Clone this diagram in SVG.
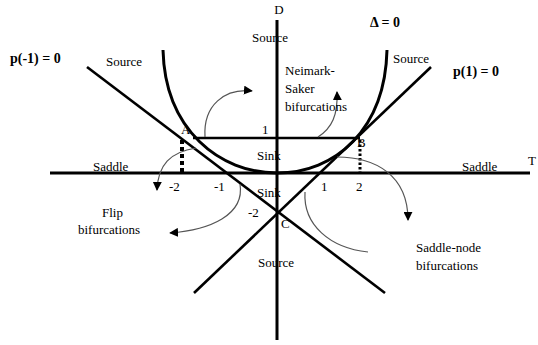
<svg xmlns="http://www.w3.org/2000/svg" width="538" height="345" viewBox="0 0 538 345">
<defs>
<marker id="ah" viewBox="0 0 10 10" refX="9" refY="5" markerWidth="9" markerHeight="9" markerUnits="userSpaceOnUse" orient="auto">
<path d="M0,0 L10,5 L0,10 z" fill="#000"/>
</marker>
<style>
.t{font-family:"Liberation Serif","Times New Roman",serif;font-size:13px;fill:#000}
.b{font-family:"Liberation Serif","Times New Roman",serif;font-size:14px;font-weight:bold;fill:#000}
.ax{stroke:#000;stroke-width:3;fill:none}
.ln{stroke:#000;stroke-width:2.6;fill:none}
.cv{stroke:#000;stroke-width:3;fill:none}
.ar{stroke:#555;stroke-width:1.2;fill:none}
</style>
</defs>
<rect width="538" height="345" fill="#fff"/>
<g id="axes">
<line class="ax" x1="277" y1="20" x2="277" y2="340"/>
<line class="ax" x1="50" y1="173" x2="530" y2="173"/>
</g>
<g id="lines">
<line class="ln" x1="87" y1="67" x2="385" y2="293"/>
<line class="ln" x1="431" y1="67" x2="194" y2="293"/>
<line class="ln" x1="193" y1="138" x2="360" y2="138"/>
<path class="cv" d="M163,50 C165,130 220,173 277,173 C335,173 385,130 387,50"/>
<line x1="182" y1="140" x2="182" y2="173" stroke="#000" stroke-width="4" stroke-dasharray="4,3"/>
<line x1="360" y1="140" x2="360" y2="173" stroke="#000" stroke-width="3" stroke-dasharray="2.5,2"/>
</g>
<g id="connectors">
<path class="ar" d="M205,137 C203,105 225,88 252,91" marker-end="url(#ah)"/>
<path class="ar" d="M318,137 C332,128 338,115 337,92" marker-end="url(#ah)"/>
<path class="ar" d="M196,148 C170,152 158,165 157,190" marker-end="url(#ah)"/>
<path class="ar" d="M240,184 C245,215 210,230 170,233" marker-end="url(#ah)"/>
<path class="ar" d="M337,157 C375,157 408,175 408,220" marker-end="url(#ah)"/>
<path class="ar" d="M305,192 C303,225 330,248 368,252"/>
</g>
<g id="labels">
<text class="t" x="279" y="14" text-anchor="middle">D</text>
<text class="b" x="385" y="27" text-anchor="middle">Δ = 0</text>
<text class="b" x="10" y="63">p(-1) = 0</text>
<text class="b" x="453" y="76">p(1) = 0</text>
<text class="t" x="106" y="66">Source</text>
<text class="t" x="252" y="42">Source</text>
<text class="t" x="393" y="63">Source</text>
<text class="t" x="285" y="75">Neimark-</text>
<text class="t" x="285" y="93">Saker</text>
<text class="t" x="285" y="111">bifurcations</text>
<text class="t" x="262" y="134">1</text>
<text class="t" x="257" y="160">Sink</text>
<text class="t" x="257" y="197">Sink</text>
<text class="t" x="181" y="134">A</text>
<text class="t" x="357" y="147">B</text>
<text class="t" x="281" y="228">C</text>
<text class="t" x="248" y="217">-2</text>
<text class="t" x="93" y="171">Saddle</text>
<text class="t" x="462" y="171">Saddle</text>
<text class="t" x="528" y="165">T</text>
<text class="t" x="169" y="191">-2</text>
<text class="t" x="214" y="191">-1</text>
<text class="t" x="321" y="191">1</text>
<text class="t" x="356" y="191">2</text>
<text class="t" x="102" y="217">Flip</text>
<text class="t" x="78" y="234">bifurcations</text>
<text class="t" x="258" y="267">Source</text>
<text class="t" x="416" y="252">Saddle-node</text>
<text class="t" x="416" y="270">bifurcations</text>
</g>
</svg>
